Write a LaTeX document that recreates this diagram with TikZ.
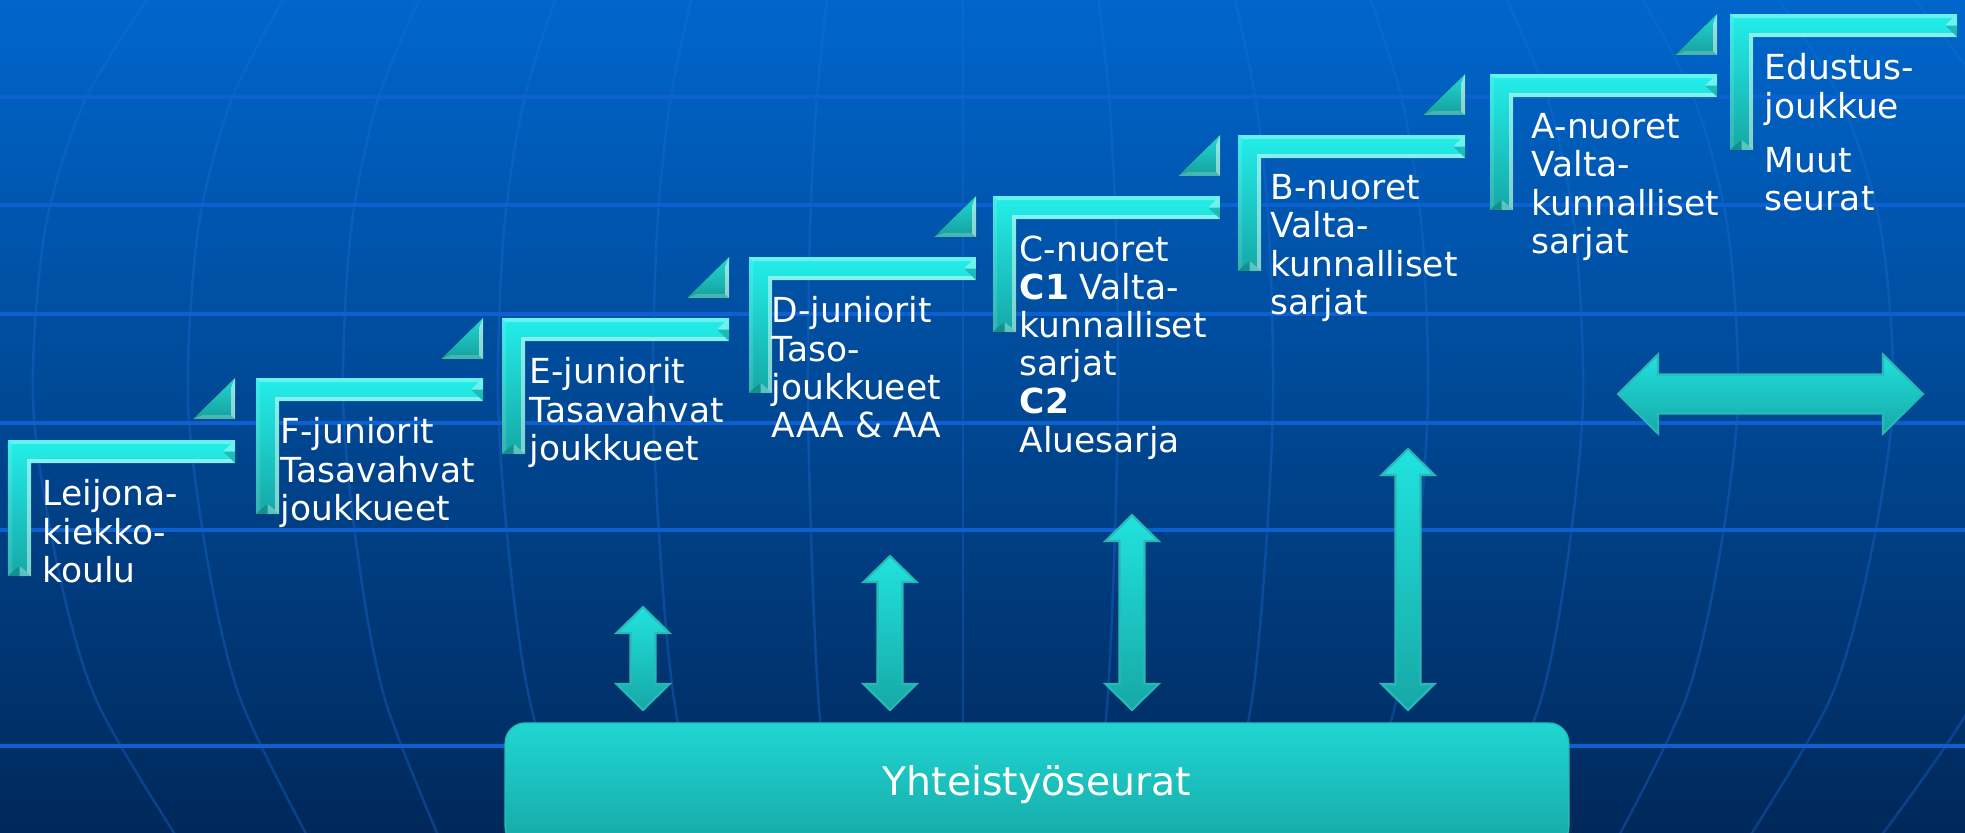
\documentclass[tikz,border=0pt]{standalone}
\usepackage{fontspec}
\setmainfont{DejaVu Sans}
\usetikzlibrary{positioning, calc}

\definecolor{bgtop}{RGB}{0,102,204}
\definecolor{bgbottom}{RGB}{0,40,90}
\definecolor{gridline}{RGB}{12,96,208}
\definecolor{globeline}{RGB}{30,110,215}
\definecolor{aquatop}{RGB}{35,238,234}
\definecolor{aquabottom}{RGB}{22,168,166}
\definecolor{tealtop}{RGB}{32,215,212}
\definecolor{tealbottom}{RGB}{22,160,158}
\definecolor{aquaedge}{RGB}{40,185,182}

\begin{document}
\begin{tikzpicture}[x=0.01cm, y=-0.01cm,
    stepface/.style={top color=aquatop, bottom color=aquabottom},
    tipface/.style={top color=tealtop, bottom color=tealbottom},
    light/.style={fill=white, fill opacity=#1},
    dark/.style={fill=black, fill opacity=#1},
    steptext/.style={anchor=north west, inner sep=0pt, align=left, text=white,
      font=\fontsize{9.8}{10.85}\selectfont},
    blockarrow/.style={top color=aquatop!95!black, bottom color=aquabottom,
      draw=aquaedge, line width=0.6pt},
    coopbox/.style={rounded corners=0.2cm, top color=aquatop!90!black,
      bottom color=aquabottom, draw=aquaedge, text=white,
      font=\fontsize{11.2}{13}\selectfont,
      minimum width=10.63cm, minimum height=1.24cm}]

  \useasboundingbox (0,0) rectangle (1965,833);
  \fill[top color=bgtop, bottom color=bgbottom] (0,0) rectangle (1965,833);

  \foreach \k in {-6,...,7}
    \draw[globeline, line width=0.025cm, opacity=0.35] plot[smooth] coordinates
      {(963+0.87*155*\k,-10) (963+0.944*155*\k,100) (963+0.987*155*\k,230)
       (963+155*\k,400) (963+0.975*155*\k,560) (963+0.932*155*\k,700)
       (963+0.84*155*\k,845)};
  \foreach \gy in {97,205,314,423,530,746}
    \draw[gridline, line width=0.035cm] (0,\gy) -- (1965,\gy);

  \foreach \lx/\ty/\tx/\name/\txt in {
      8/440/42/leijona/{Leijona-\\kiekko-\\koulu},
      256/378/280/fjun/{F-juniorit\\Tasavahvat\\joukkueet},
      502/318/529/ejun/{E-juniorit\\Tasavahvat\\joukkueet},
      749/257/771/djun/{D-juniorit\\Taso-\\joukkueet\\AAA \& AA},
      993/196/1019/cnuor/{C-nuoret\\\textbf{C1} Valta-\\kunnalliset\\sarjat\\\textbf{C2}\\Aluesarja},
      1238/135/1270/bnuor/{B-nuoret\\Valta-\\kunnalliset\\sarjat},
      1490/74/1531/anuor/{A-nuoret\\Valta-\\kunnalliset\\sarjat},
      1730/14/1764/edustus/{Edustus-\\joukkue\\[4.5pt]Muut\\seurat}} {
    \fill[stepface] (\lx,\ty) -- ++(227,0) -- ++(0,23) -- ++(-204,0) -- ++(0,113) -- ++(-23,0) -- cycle;
    \fill[light=.3] (\lx,\ty) -- (\lx+227,\ty) -- (\lx+223,\ty+4) -- (\lx+4,\ty+4) -- cycle;
    \fill[light=.12] (\lx,\ty) -- (\lx+4,\ty+4) -- (\lx+4,\ty+132) -- (\lx,\ty+136) -- cycle;
    \fill[light=.45] (\lx+227,\ty+23) -- (\lx+23,\ty+23) -- (\lx+19,\ty+19) -- (\lx+223,\ty+19) -- cycle;
    \fill[light=.45] (\lx+23,\ty+23) -- (\lx+23,\ty+136) -- (\lx+19,\ty+132) -- (\lx+19,\ty+19) -- cycle;
    \fill[light=.35] (\lx+227,\ty) -- (\lx+227,\ty+11.5) -- (\lx+215,\ty+11.5) -- (\lx+223,\ty+4) -- cycle;
    \fill[dark=.18] (\lx+227,\ty+11.5) -- (\lx+227,\ty+23) -- (\lx+223,\ty+19) -- (\lx+215,\ty+11.5) -- cycle;
    \fill[dark=.15] (\lx,\ty+136) -- (\lx+11.5,\ty+136) -- (\lx+11.5,\ty+126) -- (\lx+4,\ty+132) -- cycle;
    \fill[light=.3] (\lx+11.5,\ty+136) -- (\lx+23,\ty+136) -- (\lx+19,\ty+132) -- (\lx+11.5,\ty+126) -- cycle;
    \node[steptext] (\name) at (\tx,\ty+39) {\txt};
  }

  \foreach \rx/\ty in {235/378, 483/318, 729/257, 976/196, 1220/135, 1465/74, 1717/14} {
    \fill[tipface] (\rx,\ty) -- (\rx,\ty+41) -- (\rx-42,\ty+41) -- cycle;
    \fill[light=.5] (\rx,\ty) -- (\rx,\ty+41) -- (\rx-4,\ty+37) -- (\rx-4,\ty+10) -- cycle;
    \fill[light=.2] (\rx,\ty+41) -- (\rx-42,\ty+41) -- (\rx-32,\ty+37) -- (\rx-4,\ty+37) -- cycle;
  }

  \node[coopbox] (coop) at (1037,785) {Yhteistyöseurat};

  \foreach \ax/\ay in {643/607, 890/556, 1132/515, 1408/449}
    \draw[blockarrow] (\ax,\ay) -- ++(26.5,26) -- ++(-14,0) -- (\ax+12.5,684) -- ++(14,0)
      -- (\ax,710) -- ++(-26.5,-26) -- ++(14,0) -- (\ax-12.5,\ay+26) -- ++(-14,0) -- cycle;

  \draw[blockarrow] (1618,394) -- (1658,354.5) -- (1658,374.5) -- (1883,374.5) -- (1883,354.5)
    -- (1923,394) -- (1883,433.5) -- (1883,413.5) -- (1658,413.5) -- (1658,433.5) -- cycle;
\end{tikzpicture}
\end{document}
